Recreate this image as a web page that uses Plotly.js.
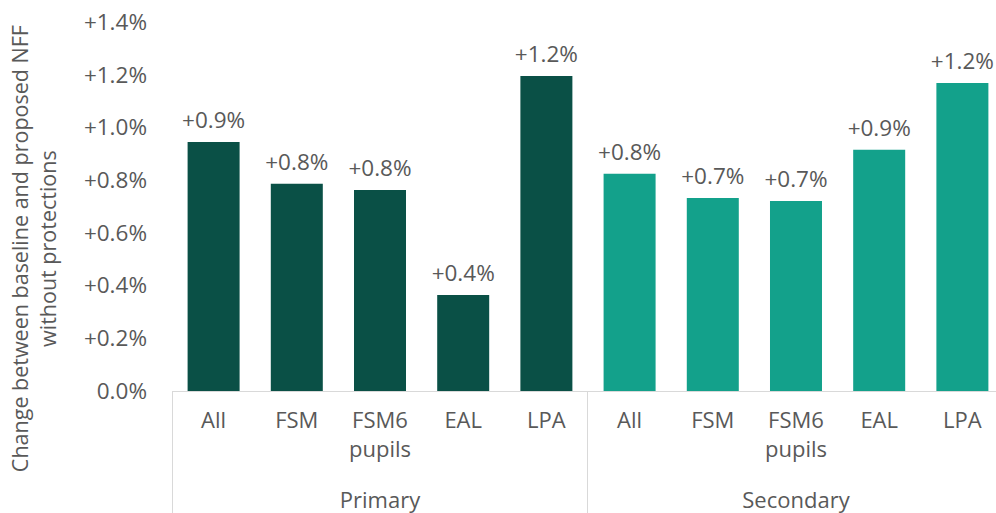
<!DOCTYPE html>
<html>
<head>
<meta charset="utf-8">
<script src="https://cdn.plot.ly/plotly-3.0.1.min.js"></script>
<style>html,body{margin:0;padding:0;overflow:hidden;background:#fff}</style>
</head>
<body>
<div id="chart" style="width:996px;height:513px"></div>
<script>
const phases = ["Primary","Primary","Primary","Primary","Primary","Secondary","Secondary","Secondary","Secondary","Secondary"];
const groups = ["All","FSM","FSM6<br>pupils","EAL","LPA","All","FSM","FSM6<br>pupils","EAL","LPA"];
const primaryValues = [0.945, 0.786, 0.763, 0.364, 1.195];
const secondaryValues = [0.824, 0.732, 0.721, 0.915, 1.169];
const primaryLabels = ["+0.9%","+0.8%","+0.8%","+0.4%","+1.2%"];
const secondaryLabels = ["+0.8%","+0.7%","+0.7%","+0.9%","+1.2%"];
const yTickVals = [0,0.2,0.4,0.6,0.8,1.0,1.2,1.4];
const yTickText = ["0.0%","+0.2%","+0.4%","+0.6%","+0.8%","+1.0%","+1.2%","+1.4%"];
const yTitle = "Change between baseline and proposed NFF<br>without protections";

const font = "Open Sans";
const grey = "#595959";

// group labels get a leading line break so they sit below the two-line tick labels
const phaseLabels = phases.map(p => "<br>" + p);

function barTrace(name, xs, ys, color) {
  return {
    type: "bar",
    name: name,
    x: xs,
    y: ys,
    marker: {color: color},
    hoverinfo: "y"
  };
}
function labelTrace(name, xs, ys, labels) {
  return {
    type: "scatter",
    mode: "markers+text",
    name: name + " labels",
    x: xs,
    y: ys,
    text: labels,
    textposition: "top center",
    textfont: {family: font, size: 22.5, color: grey},
    marker: {size: 12, opacity: 0, color: "#ffffff"},
    cliponaxis: false,
    hoverinfo: "skip"
  };
}

const xPrimary = [phaseLabels.slice(0,5), groups.slice(0,5)];
const xSecondary = [phaseLabels.slice(5), groups.slice(5)];

const traces = [
  barTrace("Primary", xPrimary, primaryValues, "#0a5046"),
  barTrace("Secondary", xSecondary, secondaryValues, "#13a18b"),
  labelTrace("Primary", xPrimary, primaryValues, primaryLabels),
  labelTrace("Secondary", xSecondary, secondaryValues, secondaryLabels)
];

const layout = {
  width: 996,
  height: 513,
  margin: {l: 172, r: 0, t: 22, b: 122, pad: 0},
  paper_bgcolor: "#ffffff",
  plot_bgcolor: "#ffffff",
  showlegend: false,
  barmode: "group",
  bargap: 0.375,
  font: {family: font, color: grey},
  xaxis: {
    type: "multicategory",
    range: [-0.5, 9.404],
    automargin: false,
    showline: true,
    linecolor: "#d9d9d9",
    linewidth: 1,
    showgrid: false,
    ticks: "",
    ticklabelstandoff: 10,
    showdividers: true,
    dividercolor: "#d9d9d9",
    dividerwidth: 1,
    tickfont: {family: font, size: 22, color: grey},
    fixedrange: true
  },
  yaxis: {
    range: [0, 1.4],
    automargin: false,
    tickvals: yTickVals,
    ticktext: yTickText,
    showgrid: false,
    zeroline: false,
    showline: false,
    ticks: "",
    ticklabelstandoff: 24,
    tickfont: {family: font, size: 22.5, color: grey},
    fixedrange: true
  },
  annotations: [{
    text: yTitle,
    textangle: -90,
    xref: "paper",
    yref: "paper",
    x: -0.168,
    y: 0.386,
    xanchor: "center",
    yanchor: "middle",
    showarrow: false,
    font: {family: font, size: 21.5, color: grey}
  }]
};

Plotly.newPlot("chart", traces, layout, {displayModeBar: false, staticPlot: true});
</script>
</body>
</html>
